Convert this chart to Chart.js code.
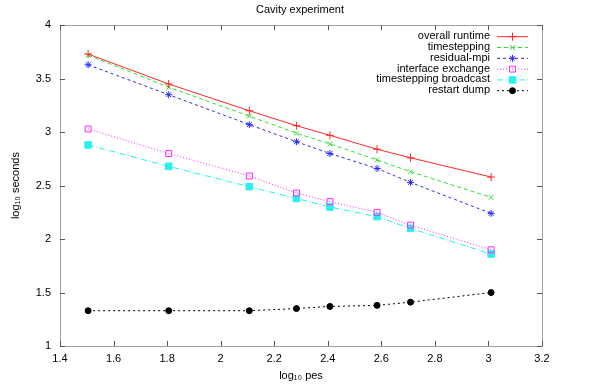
<!DOCTYPE html>
<html>
<head>
<meta charset="utf-8">
<script src="https://cdn.jsdelivr.net/npm/chart.js@4.4.1/dist/chart.umd.min.js"></script>
<style>
  html, body { margin: 0; padding: 0; background: #fff; }
  #wrap { width: 600px; height: 386px; }
</style>
</head>
<body>
<div id="wrap"><canvas id="chart-line"></canvas></div>
<script>
// log10 of processor counts (32 .. 1024)
var pes = [1.505, 1.806, 2.107, 2.283, 2.408, 2.584, 2.709, 3.010];

var overallRuntime = [3.73, 3.45, 3.20, 3.06, 2.97, 2.84, 2.76, 2.58];
var timestepping = [3.72, 3.42, 3.15, 2.99, 2.89, 2.74, 2.63, 2.39];
var residualMpi = [3.63, 3.35, 3.07, 2.91, 2.80, 2.66, 2.53, 2.24];
var interfaceExchange = [3.03, 2.80, 2.59, 2.43, 2.35, 2.25, 2.13, 1.90];
var tsBroadcast = [2.88, 2.68, 2.49, 2.38, 2.30, 2.21, 2.10, 1.86];
var restartDump = [1.33, 1.33, 1.33, 1.35, 1.37, 1.38, 1.41, 1.50];

var xTicks = [1.4, 1.6, 1.8, 2, 2.2, 2.4, 2.6, 2.8, 3, 3.2];
var yTicks = [1, 1.5, 2, 2.5, 3, 3.5, 4];

var FONT = "'Liberation Sans', Arial, sans-serif";

function pts(ys) {
    return ys.map(function (y, i) { return { x: pes[i], y: y }; });
}

function series(label, ys, color, dash, style, radius, fill) {
    return {
        label: label,
        data: pts(ys),
        borderColor: color,
        backgroundColor: color,
        borderWidth: 1,
        borderDash: dash,
        tension: 0,
        fill: false,
        pointStyle: style,
        pointRadius: radius,
        pointBorderWidth: 1,
        pointBorderColor: color,
        pointBackgroundColor: fill ? color : 'rgba(0,0,0,0)'
    };
}

// gnuplot-like frame: grey box with inward ticks mirrored on all sides
var framePlugin = {
    id: 'frame',
    afterDatasetsDraw: function (chart) {
        var c = chart.ctx, a = chart.chartArea;
        var xs = chart.scales.x, ys = chart.scales.y;
        c.save();
        c.setLineDash([]);
        c.lineWidth = 1;
        c.strokeStyle = '#a0a0a0';
        c.strokeRect(Math.round(a.left) + 0.5, Math.round(a.top) + 0.5,
            Math.round(a.right - a.left), Math.round(a.bottom - a.top));
        c.strokeStyle = '#555';
        c.beginPath();
        xTicks.forEach(function (v) {
            var px = Math.round(xs.getPixelForValue(v)) + 0.5;
            c.moveTo(px, a.bottom); c.lineTo(px, a.bottom - 5);
            c.moveTo(px, a.top); c.lineTo(px, a.top + 5);
        });
        yTicks.forEach(function (v) {
            var py = Math.round(ys.getPixelForValue(v)) + 0.5;
            c.moveTo(a.left, py); c.lineTo(a.left + 5, py);
            c.moveTo(a.right, py); c.lineTo(a.right - 5, py);
        });
        c.stroke();

        // key, top right inside the frame
        var textRight = a.right - 52, y0 = a.top + 11, step = 10.8;
        c.font = '11px ' + FONT;
        c.textAlign = 'right';
        c.textBaseline = 'middle';
        chart.data.datasets.forEach(function (ds, i) {
            var y = y0 + i * step;
            c.fillStyle = '#000';
            c.fillText(ds.label, textRight, y);
            c.strokeStyle = ds.borderColor;
            c.setLineDash(ds.borderDash || []);
            c.beginPath();
            c.moveTo(textRight + 7, y + 0.5);
            c.lineTo(textRight + 38, y + 0.5);
            c.stroke();
            c.setLineDash([]);
            c.fillStyle = ds.pointBackgroundColor;
            Chart.helpers.drawPoint(c, {
                pointStyle: ds.pointStyle,
                radius: ds.pointRadius,
                borderWidth: 1,
                rotation: 0
            }, textRight + 22.5, y + 0.5);
        });
        c.restore();
    }
};

var ctx = document.getElementById('chart-line').getContext('2d');

new Chart(ctx, {
    type: 'line',
    data: {
        datasets: [
            series('overall runtime', overallRuntime, '#ff2828', [], 'cross', 4, true),
            series('timestepping', timestepping, '#30e030', [4, 3], 'crossRot', 3.5, true),
            series('residual-mpi', residualMpi, '#2828ff', [3, 3], 'star', 3.5, true),
            series('interface exchange', interfaceExchange, '#ff28ff', [1, 2], 'rect', 4.2, false),
            series('timestepping broadcast', tsBroadcast, '#28f0f0', [6, 2, 1, 2], 'rect', 4.6, true),
            series('restart dump', restartDump, '#000000', [2, 3], 'circle', 3, true)
        ]
    },
    plugins: [framePlugin],
    options: {
        responsive: true,
        maintainAspectRatio: false,
        animation: false,
        events: [],
        layout: { padding: 0 },
        plugins: {
            legend: { display: false },
            tooltip: { enabled: false },
            title: {
                display: true,
                text: 'Cavity experiment',
                color: '#000',
                font: { size: 11, family: FONT, weight: 'normal' },
                padding: { top: 3, bottom: 9 }
            }
        },
        scales: {
            x: {
                type: 'linear',
                min: 1.4,
                max: 3.2,
                afterBuildTicks: function (s) { s.ticks = xTicks.map(function (v) { return { value: v }; }); },
                afterFit: function (s) { s.height = 40; },
                grid: { display: false, drawTicks: false },
                border: { display: false },
                ticks: {
                    color: '#000',
                    padding: 6,
                    maxRotation: 0,
                    font: { size: 11, family: FONT },
                    callback: function (v) { return String(v); }
                },
                title: {
                    display: true,
                    text: 'log\u2081\u2080 pes',
                    color: '#000',
                    font: { size: 11, family: FONT },
                    padding: { top: 0, bottom: 3 }
                }
            },
            y: {
                type: 'linear',
                min: 1,
                max: 4,
                afterBuildTicks: function (s) { s.ticks = yTicks.map(function (v) { return { value: v }; }); },
                afterFit: function (s) { s.width = 60; },
                grid: { display: false, drawTicks: false },
                border: { display: false },
                ticks: {
                    color: '#000',
                    padding: 9,
                    font: { size: 11, family: FONT },
                    callback: function (v) { return String(v); }
                },
                title: {
                    display: true,
                    text: 'log\u2081\u2080 seconds',
                    color: '#000',
                    font: { size: 11, family: FONT },
                    padding: { top: 9, bottom: 0 }
                }
            },
            // empty right-hand margin so the title centres on the page
            margin: {
                type: 'linear',
                position: 'right',
                display: true,
                afterFit: function (s) { s.width = 58; },
                grid: { display: false, drawTicks: false },
                border: { display: false },
                ticks: { display: false }
            }
        }
    }
});
</script>
</body>
</html>
